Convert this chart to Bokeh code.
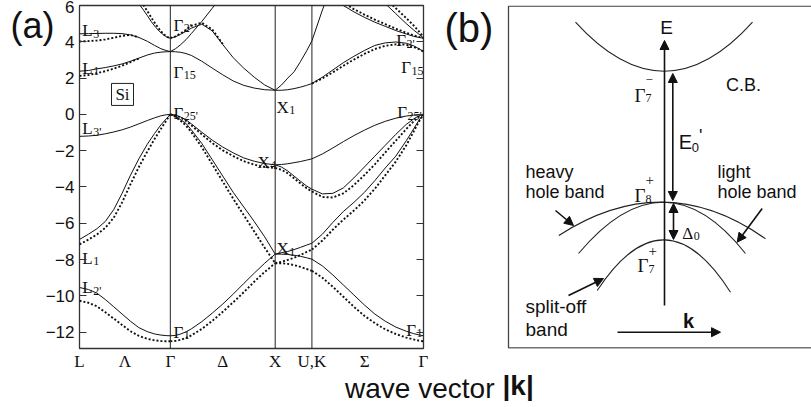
from bokeh.plotting import figure
from bokeh.models import Range1d, FixedTicker, LinearAxis, Span, Label, Arrow, NormalHead
from bokeh.layouts import row
from bokeh.embed import file_html
from bokeh.resources import INLINE
from bokeh.core.properties import value

# ---------------- panel (a): Si band structure (energies in eV) ----------------
K_MIN, K_MAX = -0.866, 2.414
E_MIN, E_MAX = -12.9, 6.0
Y_TICKS = [-12, -10, -8, -6, -4, -2, 0, 2, 4, 6]
Y_TICK_LABELS = ["\u221212", "\u221210", "\u22128", "\u22126", "\u22124", "\u22122", "0", "2", "4", "6"]
X_TICKS = [-0.866, -0.433, 0.0, 0.5, 1.0, 1.35, 1.853, 2.414]
X_TICK_LABELS = ["L", "\u039b", "\u0393", "\u0394", "X", "U,K", "\u03a3", "\u0393"]
SYM_LINES = [0.0, 1.0, 1.35]

# L -> Gamma
K_LG = [-0.866, -0.78, -0.70, -0.62, -0.54, -0.46, -0.38, -0.30, -0.22, -0.15, -0.09, -0.04, 0.0]
LG_L2p_s = [-9.54, -9.65, -9.85, -10.2, -10.6, -11.0, -11.4, -11.75, -11.97, -12.1, -12.16, -12.19, -12.2]
LG_L2p_d = [-10.27, -10.38, -10.58, -10.9, -11.25, -11.6, -11.95, -12.2, -12.37, -12.45, -12.49, -12.5, -12.5]
LG_L1v_s = [-6.89, -6.6, -6.3, -5.9, -5.25, -4.35, -3.35, -2.45, -1.65, -1.05, -0.58, -0.25, 0.0]
LG_L1v_d = [-7.16, -6.9, -6.62, -6.25, -5.7, -4.85, -3.85, -2.9, -2.05, -1.35, -0.8, -0.35, 0.0]
LG_L3p_s = [-1.21, -1.19, -1.15, -1.07, -0.97, -0.85, -0.7, -0.52, -0.34, -0.19, -0.08, -0.02, 0.0]
LG_L1c_s = [2.38, 2.42, 2.51, 2.58, 2.67, 2.78, 2.93, 3.1, 3.27, 3.38, 3.43, 3.45, 3.46]
LG_L1c_d = [2.12, 2.17, 2.27, 2.38, 2.52, 2.68, 2.88, 3.08]
LG_L3c_s = [4.44, 4.45, 4.46, 4.47, 4.47, 4.45, 4.38, 4.24, 4.03, 3.8, 3.62, 3.52, 3.46]
LG_L3c_d = [4.02, 4.04, 4.07, 4.13, 4.22, 4.33, 4.38, 4.24]
K_G2 = [-0.30, -0.26, -0.22, -0.18, -0.14, -0.10, -0.06, -0.03, 0.0]
G2_s = [6.1, 5.78, 5.45, 5.1, 4.8, 4.55, 4.36, 4.25, 4.2]
G2_d = [6.4, 6.05, 5.7, 5.32, 4.97, 4.65, 4.4, 4.27, 4.2]

# Gamma -> X
K_GX = [0.0, 0.05, 0.1, 0.15, 0.2, 0.3, 0.4, 0.5, 0.6, 0.7, 0.8, 0.9, 1.0]
GX_D1_s = [-12.2, -12.18, -12.1, -11.98, -11.82, -11.42, -10.95, -10.45, -9.9, -9.32, -8.75, -8.2, -7.7]
GX_D1_d = [-12.5, -12.48, -12.42, -12.32, -12.18, -11.82, -11.38, -10.88, -10.35, -9.8, -9.22, -8.68, -8.2]
GX_D2p_s = [0.0, -0.12, -0.3, -0.5, -0.85, -1.6, -2.5, -3.4, -4.3, -5.1, -5.9, -6.75, -7.7]
GX_D2p_d = [0.0, -0.14, -0.36, -0.62, -0.98, -1.8, -2.75, -3.7, -4.65, -5.55, -6.45, -7.35, -8.2]
GX_D5_s = [0.0, -0.04, -0.15, -0.3, -0.52, -0.98, -1.42, -1.8, -2.12, -2.4, -2.58, -2.71, -2.78]
GX_D5_d = [0.0, -0.05, -0.18, -0.36, -0.6, -1.1, -1.58, -1.98, -2.3, -2.58, -2.77, -2.9, -2.95]
GX_C1_s = [3.46, 3.45, 3.42, 3.35, 3.25, 2.93, 2.55, 2.18, 1.84, 1.6, 1.45, 1.36, 1.33]
GX_C2_s = [4.2, 4.28, 4.42, 4.58, 4.75, 4.97, 4.6, 3.85, 3.12, 2.55, 2.05, 1.62, 1.33]
GX_C2_d = [4.2, 4.3, 4.47, 4.66, 4.88, 5.05, 4.68, 3.88]
GX_C5_s = [3.46, 3.62, 3.85, 4.12, 4.45, 5.12, 5.85, 6.6]

# X -> U,K
K_XK = [1.0, 1.06, 1.12, 1.18, 1.24, 1.30, 1.35]
XK_i_s = [-2.78, -2.76, -2.72, -2.66, -2.6, -2.52, -2.45]
XK_ii_s = [-2.78, -2.9, -3.12, -3.4, -3.68, -3.95, -4.12]
XK_ii_d = [-2.95, -3.05, -3.25, -3.52, -3.8, -4.07, -4.25]
XK_iii_s = [-7.7, -7.62, -7.55, -7.45, -7.33, -7.2, -7.1]
XK_iii_d = [-8.2, -8.12, -8.02, -7.9, -7.75, -7.58, -7.45]
XK_low_s = [-7.7, -7.7, -7.72, -7.76, -7.82, -7.9, -7.98]
XK_low_d = [-8.2, -8.2, -8.24, -8.3, -8.4, -8.52, -8.62]
XK_C1_s = [1.33, 1.33, 1.36, 1.42, 1.5, 1.6, 1.7]
XK_C2_s = [1.33, 1.62, 2.0, 2.35, 2.9, 3.5, 4.05]

# K -> Gamma
K_KG = [1.35, 1.45, 1.55, 1.65, 1.75, 1.85, 1.95, 2.05, 2.15, 2.25, 2.32, 2.37, 2.414]
KG_i_s = [-2.45, -2.18, -1.85, -1.5, -1.17, -0.87, -0.6, -0.38, -0.21, -0.09, -0.04, -0.01, 0.0]
KG_ii_s = [-4.12, -4.38, -4.35, -4.05, -3.5, -2.9, -2.3, -1.7, -1.1, -0.55, -0.25, -0.08, 0.0]
KG_ii_d = [-4.25, -4.55, -4.58, -4.35, -3.9, -3.35, -2.75, -2.1, -1.45, -0.8, -0.38, -0.13, 0.0]
KG_iii_s = [-7.1, -6.6, -5.95, -5.35, -4.85, -4.3, -3.65, -2.95, -2.3, -1.45, -0.8, -0.33, 0.0]
KG_iii_d = [-7.45, -6.95, -6.35, -5.8, -5.3, -4.75, -4.1, -3.35, -2.6, -1.7, -0.95, -0.4, 0.0]
KG_low_s = [-7.98, -8.35, -8.85, -9.4, -9.95, -10.5, -11.0, -11.4, -11.72, -11.95, -12.08, -12.15, -12.2]
KG_low_d = [-8.62, -9.0, -9.5, -10.05, -10.6, -11.1, -11.5, -11.85, -12.1, -12.3, -12.4, -12.47, -12.5]
KG_C1_s = [1.7, 2.05, 2.45, 2.85, 3.2, 3.52, 3.8, 3.94, 3.99, 3.92, 3.78, 3.62, 3.46]
KG_C1_d = [1.7, 1.98, 2.32, 2.68, 3.02, 3.33, 3.6, 3.78, 3.86, 3.84, 3.72, 3.6, 3.46]
KG_C2_s = [4.05, 5.75, 7.3]
KG_C3_s = [6.4, 6.0, 5.65, 5.35, 5.08, 4.85, 4.62, 4.43, 4.3, 4.24, 4.2]
KG_C3_d = [6.6, 6.15, 5.8, 5.5, 5.22, 4.97, 4.72, 4.5, 4.35, 4.27, 4.2]
KG_C4_s = [6.6, 6.1, 5.55, 5.0, 4.65, 4.42, 4.22]
KG_C4_d = [6.9, 6.4, 5.85, 5.3, 4.9, 4.58, 4.25]

# point labels: main letter, subscript, k, E(baseline)
PT_MAIN = ["L", "L", "L", "L", "L", "\u0393", "\u0393", "\u0393", "X", "X", "X", "\u0393", "\u0393", "\u0393", "\u0393", "\u0393"]
PT_SUB = ["3", "1", "3'", "1", "2'", "2'", "15", "25'", "4", "1", "1", "1", "1", "2'", "15", "25'"]
PT_K = [-0.840, -0.840, -0.840, -0.840, -0.840, 0.030, 0.030, 0.030, 0.831, 1.012, 1.012, 0.030, 2.249, 2.154, 2.201, 2.163]
PT_E = [4.62, 2.53, -0.78, -7.94, -9.54, 4.90, 2.31, 0.05, -2.65, 0.38, -7.39, -12.01, -11.90, 4.07, 2.58, 0.10]

SOLID = dict(line_color="#111111", line_width=1.0)
DOT = dict(line_color="#111111", line_width=1.9, line_dash="2 2")

pa = figure(width=502, height=407, x_range=Range1d(K_MIN, K_MAX), y_range=Range1d(E_MIN, E_MAX),
            toolbar_location=None, output_backend="svg",
            min_border_left=79, min_border_right=79, min_border_top=5, min_border_bottom=59)
pa.grid.visible = False
pa.outline_line_color = "#333333"
pa.outline_line_width = 1.3

xa = pa.xaxis[0]
xa.ticker = FixedTicker(ticks=X_TICKS)
xa.major_label_overrides = dict(zip(X_TICKS, X_TICK_LABELS))
xa.major_tick_in = 0
xa.major_tick_out = 0
xa.minor_tick_in = 0
xa.minor_tick_out = 0
xa.axis_line_color = None
xa.major_label_text_font = "Liberation Serif"
xa.major_label_text_font_size = "17px"
xa.major_label_text_color = "#111111"
xa.major_label_standoff = 3

ya = pa.yaxis[0]
ya.ticker = FixedTicker(ticks=Y_TICKS)
ya.major_label_overrides = dict(zip(Y_TICKS, Y_TICK_LABELS))
ya.major_tick_in = 7
ya.major_tick_out = 0
ya.minor_tick_in = 0
ya.minor_tick_out = 0
ya.axis_line_color = None
ya.major_tick_line_color = "#333333"
ya.major_label_text_font = "Liberation Sans"
ya.major_label_text_font_size = "17px"
ya.major_label_text_color = "#111111"
ya.major_label_standoff = 5

# right-hand inner ticks (no labels)
ra = LinearAxis(ticker=FixedTicker(ticks=Y_TICKS), major_label_overrides={t: "" for t in Y_TICKS},
                major_label_standoff=0,
                major_tick_in=7, major_tick_out=0, minor_tick_in=0, minor_tick_out=0,
                axis_line_color=None, major_tick_line_color="#333333")
pa.add_layout(ra, "right")

# panel letters and axis title, carried by label-only axes outside the frame
PANEL_A_E, PANEL_B_E = 5.39, 5.37
TITLE_K = 2.3786
la = LinearAxis(ticker=FixedTicker(ticks=[PANEL_A_E]), major_label_overrides={PANEL_A_E: "(a)"},
                major_label_standoff=-12, major_tick_in=0, major_tick_out=0, minor_tick_in=0, minor_tick_out=0,
                axis_line_color=None, major_label_text_font="Liberation Sans",
                major_label_text_font_size="36px", major_label_text_color="#111111")
pa.add_layout(la, "left")
rb = LinearAxis(ticker=FixedTicker(ticks=[PANEL_B_E]), major_label_overrides={PANEL_B_E: "(b)"},
                major_label_standoff=21, major_tick_in=0, major_tick_out=0, minor_tick_in=0, minor_tick_out=0,
                axis_line_color=None, major_label_text_font="Liberation Sans",
                major_label_text_font_size="40px", major_label_text_color="#111111")
pa.add_layout(rb, "right")
bt = LinearAxis(ticker=FixedTicker(ticks=[TITLE_K]), major_label_overrides={TITLE_K: "wave vector"},
                major_label_standoff=-1, major_tick_in=0, major_tick_out=0, minor_tick_in=0, minor_tick_out=0,
                axis_line_color=None, major_label_text_font="Liberation Sans",
                major_label_text_font_size="28px", major_label_text_color="#111111")
pa.add_layout(bt, "below")

for loc in SYM_LINES:
    pa.add_layout(Span(location=loc, dimension="height", line_color="#222222", line_width=1.0))

solid_sets = [
    (K_LG, LG_L2p_s), (K_LG, LG_L1v_s), (K_LG, LG_L3p_s), (K_LG, LG_L1c_s), (K_LG, LG_L3c_s), (K_G2, G2_s),
    (K_GX, GX_D1_s), (K_GX, GX_D2p_s), (K_GX, GX_D5_s), (K_GX, GX_C1_s), (K_GX, GX_C2_s), (K_GX[:8], GX_C5_s),
    (K_XK, XK_i_s), (K_XK, XK_ii_s), (K_XK, XK_iii_s), (K_XK, XK_low_s), (K_XK, XK_C1_s), (K_XK, XK_C2_s),
    (K_KG, KG_i_s), (K_KG, KG_ii_s), (K_KG, KG_iii_s), (K_KG, KG_low_s), (K_KG, KG_C1_s),
    (K_KG[:3], KG_C2_s), (K_KG[2:], KG_C3_s), (K_KG[6:], KG_C4_s),
]
dotted_sets = [
    (K_LG, LG_L2p_d), (K_LG, LG_L1v_d), (K_LG[:8], LG_L1c_d), (K_LG[:8], LG_L3c_d), (K_G2, G2_d),
    (K_GX, GX_D1_d), (K_GX, GX_D2p_d), (K_GX, GX_D5_d), (K_GX[:8], GX_C2_d),
    (K_XK, XK_ii_d), (K_XK, XK_iii_d), (K_XK, XK_low_d),
    (K_KG, KG_ii_d), (K_KG, KG_iii_d), (K_KG, KG_low_d), (K_KG, KG_C1_d),
    (K_KG[2:], KG_C3_d), (K_KG[6:], KG_C4_d),
]
for kk, ee in dotted_sets:
    pa.line(kk, ee, **DOT)
for kk, ee in solid_sets:
    pa.line(kk, ee, **SOLID)

MAIN_W = {"L": 10.4, "\u0393": 9.8, "X": 12.3}
pa.text(x=PT_K, y=PT_E, text=PT_MAIN, text_font=value("Liberation Serif"), text_font_size="17px",
        text_align="left", text_baseline="alphabetic", text_color="#111111")
pa.text(x=PT_K, y=PT_E, text=PT_SUB, x_offset=[MAIN_W[m] + 0.5 for m in PT_MAIN], y_offset=3,
        text_font=value("Liberation Serif"), text_font_size="12px",
        text_align="left", text_baseline="alphabetic", text_color="#111111")

# "Si" box
pa.rect(x=[-0.456], y=[1.10], width=22, height=22, width_units="screen", height_units="screen",
        fill_color=None, line_color="#222222", line_width=1.0)
pa.text(x=[-0.456], y=[1.10], text=["Si"], text_font=value("Liberation Serif"), text_font_size="17px",
        text_align="center", text_baseline="middle", text_color="#111111")

# ---------------- panel (b): schematic near Gamma ----------------
# coordinates: x = k (px right of the E axis), y = energy (px above the valence-band top)
BOX = dict(left=-156, right=160, top=196.0, bottom=-145.8)
BANDS_X0 = [-89, -105.7, -86, -67.3]
BANDS_Y0 = [180, -33.3, -51.3, -88.3]
BANDS_X1 = [88, 101, 81, 66]
BANDS_Y1 = [180, -36.6, -51.3, -90]
BANDS_CX = [0, 0, 0, 0]
BANDS_CY = [82, 35, 51.3, 13.8]
K_TITLE_X = -146.4

pb = figure(width=309, height=407, x_range=Range1d(-162, 147), y_range=Range1d(-146.3, 196.7),
            toolbar_location=None, output_backend="svg", x_axis_type=None, y_axis_type=None,
            min_border_left=0, min_border_right=0, min_border_top=5, min_border_bottom=59)
pb.grid.visible = False
pb.outline_line_color = None

kt = LinearAxis(ticker=FixedTicker(ticks=[K_TITLE_X]), major_label_overrides={K_TITLE_X: "|k|"},
                major_label_standoff=21, major_tick_in=0, major_tick_out=0, minor_tick_in=0, minor_tick_out=0,
                axis_line_color=None, major_label_text_font="Liberation Sans",
                major_label_text_font_size="28px", major_label_text_font_style="bold",
                major_label_text_color="#111111")
pb.add_layout(kt, "below")

pb.quad(left=[BOX["left"]], right=[BOX["right"]], top=[BOX["top"]], bottom=[BOX["bottom"]],
        fill_color=None, line_color="#444444", line_width=1.3)
pb.quadratic(x0=BANDS_X0, y0=BANDS_Y0, x1=BANDS_X1, y1=BANDS_Y1, cx=BANDS_CX, cy=BANDS_CY,
             line_color="#222222", line_width=1.1)

def head():
    return NormalHead(size=9, fill_color="#111111", line_color="#111111", line_width=1)

ARROWS_ONE = [  # x_start, y_start, x_end, y_end
    (0, -103.3, 0, 161.7),
    (-47, -130, 56, -130),
    (-109, -8.3, -91, -23.3),
    (97.7, -6.3, 72.7, -40),
    (-96, -93.3, -61, -76.3),
]
ARROWS_TWO = [
    (8.3, 1.7, 8.3, 128.7),
    (9, -1.3, 9, -37.3),
]
for xs, ys, xe, ye in ARROWS_ONE:
    pb.add_layout(Arrow(end=head(), x_start=xs, y_start=ys, x_end=xe, y_end=ye,
                        line_color="#111111", line_width=1.6))
for xs, ys, xe, ye in ARROWS_TWO:
    pb.add_layout(Arrow(start=head(), end=head(), x_start=xs, y_start=ys, x_end=xe, y_end=ye,
                        line_color="#111111", line_width=1.6))

def lab(x, y, t, font="Liberation Sans", size="18px", align="left", base="middle", style="normal"):
    pb.add_layout(Label(x=x, y=y, text=t, text_font=font, text_font_size=size, text_align=align,
                        text_baseline=base, text_font_style=style, text_color="#111111"))

lab(2, 174.7, "E", size="19px", align="center")
lab(79, 117.7, "C.B.", align="center")
lab(-139, 30.7, "heavy")
lab(-139, 10.7, "hole band")
lab(53, 30.7, "light")
lab(53, 10.7, "hole band")
lab(-139, -104.3, "split-off", size="19px")
lab(-139, -127.3, "band", size="19px")
lab(24, -118.3, "k", size="20px", align="center", style="bold")
# Gamma labels with super/subscripts
lab(-30, 106.7, "\u0393", font="Liberation Serif", size="19px", base="alphabetic")
lab(-19, 122.7, "\u2212", font="Liberation Serif", size="13px")
lab(-19, 104.7, "7", font="Liberation Serif", size="12px", base="alphabetic")
lab(-30, 6.7, "\u0393", font="Liberation Serif", size="19px", base="alphabetic")
lab(-19, 22.7, "+", font="Liberation Serif", size="15px")
lab(-19, 3.7, "8", font="Liberation Serif", size="12px", base="alphabetic")
lab(-27, -63.3, "\u0393", font="Liberation Serif", size="19px", base="alphabetic")
lab(-16, -48.3, "+", font="Liberation Serif", size="15px")
lab(-16, -66.3, "7", font="Liberation Serif", size="12px", base="alphabetic")
lab(17.7, -31.6, "\u0394", font="Liberation Serif", size="17px", base="alphabetic")
lab(29.3, -33.3, "0", font="Liberation Serif", size="12px", base="alphabetic")
lab(14.3, 60, "E", size="20px", base="alphabetic")
lab(27.3, 55, "0", size="13px", base="alphabetic")
lab(34.5, 76.7, "'", size="18px", base="top")

layout = row(pa, pb)
open("out.html", "w").write(file_html(layout, INLINE))
